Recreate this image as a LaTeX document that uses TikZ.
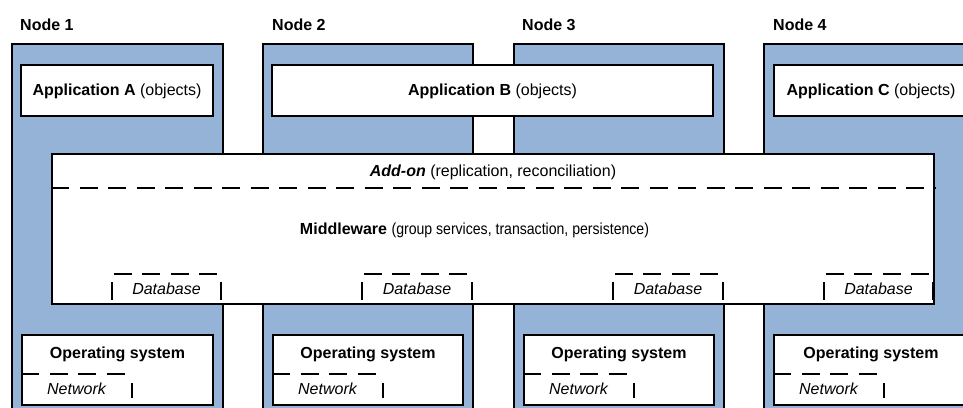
\documentclass[tikz,border=0pt]{standalone}
\usepackage{fontspec}
\usepackage{graphicx}
\setmainfont{Liberation Sans}
\usetikzlibrary{calc}
\definecolor{nodeblue}{HTML}{95B3D7}
\begin{document}
\begin{tikzpicture}[x=1pt,y=-1pt,
  every node/.style={font=\fontsize{16}{19}\selectfont, inner sep=0pt},
  column/.style={draw=black, line width=2pt, fill=nodeblue, anchor=north west, minimum height=390pt},
  layer/.style={draw=black, line width=2pt, fill=white, anchor=north west},
  dashline/.style={line width=2pt, dash pattern=on 18pt off 10.5pt},
  bar/.style={line width=2pt},
  label/.style={anchor=base},
  title/.style={anchor=base west, font=\fontsize{16}{19}\selectfont\bfseries},
]
\useasboundingbox (0,0) rectangle (963,407);
\clip (0,0) rectangle (963,407);

% machine columns
\node[column, minimum width=211pt] (col1) at (11,43) {};
\node[column, minimum width=210pt] (col2) at (262,43) {};
\node[column, minimum width=210pt] (col3) at (513,43) {};
\node[column, minimum width=210pt] (col4) at (763,43) {};

\node[title] (t1) at (20,30) {Node 1};
\node[title] (t2) at (272,30) {Node 2};
\node[title] (t3) at (522,30) {Node 3};
\node[title] (t4) at (773,30) {Node 4};

% applications
\node[layer, minimum width=192pt, minimum height=51pt] (appA) at (20,64) {};
\node[layer, minimum width=441pt, minimum height=51pt] (appB) at (271,64) {};
\node[layer, minimum width=194pt, minimum height=51pt] (appC) at (773,64) {};
\node[label] at (appA.center |- 0,95) {\textbf{Application A} (objects)};
\node[label] at (appB.center |- 0,95) {\textbf{Application B} (objects)};
\node[label] at (appC.center |- 0,95) {\textbf{Application C} (objects)};

% operating systems
\foreach \n/\x/\w in {1/21/191, 2/272/190, 3/523/190, 4/773/194} {
  \node[layer, minimum width=\w pt, minimum height=70pt] (os\n) at (\x,334) {};
  \node[label] (ost\n) at (os\n.center |- 0,358) {\textbf{Operating system}};
  \coordinate (nb\n) at (\x+111,383);
  \draw[dashline] (os\n.west |- 0,374) -- (nb\n |- 0,374);
  \draw[bar] (nb\n) -- ++(0,15);
  \node[label] (net\n) at ($(os\n.west |- 0,394)!0.5!(nb\n |- 0,394)$) {\itshape Network};
}

% shared middleware
\node[layer, minimum width=882pt, minimum height=150pt] (mw) at (51,153) {};
\draw[dashline] (mw.west |- 0,188) -- (mw.east |- 0,188);
\node[label] (addon) at (mw.center |- 0,176) {\textbf{\itshape Add-on} (replication, reconciliation)};
\node[label] (mwt) at (474.5,234) {\textbf{Middleware} \scalebox{0.88}[1]{(group services, transaction, persistence)}};

% local databases
\foreach \n/\a/\b in {1/112/221, 2/362/472, 3/613/723, 4/824/933} {
  \coordinate (dbl\n) at (\a,282);
  \coordinate (dbr\n) at (\b,282);
  \draw[dashline] (\a+1.5,274) -- (\b-2,274);
  \draw[bar] (dbl\n) -- ++(0,18);
  \draw[bar] (dbr\n) -- ++(0,18);
  \node[label] (db\n) at ($(dbl\n)!0.5!(dbr\n) + (0,12)$) {\itshape Database};
}
\end{tikzpicture}
\end{document}
